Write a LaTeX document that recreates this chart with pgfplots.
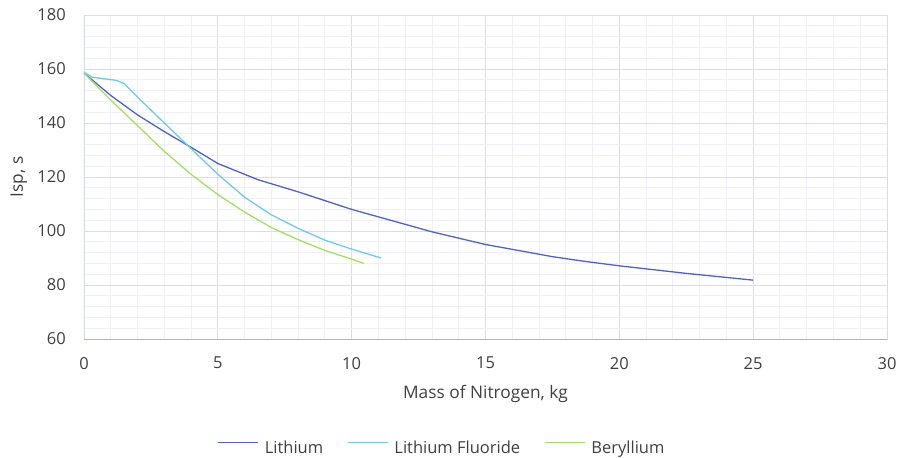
\documentclass[border=0pt]{standalone}
\usepackage{pgfplots}
\pgfplotsset{compat=1.18}
\usepackage{fontspec}
\setmainfont{Open Sans}
\definecolor{cLi}{RGB}{80,98,200}
\definecolor{cLiF}{RGB}{110,200,240}
\definecolor{cBe}{RGB}{165,222,100}
\definecolor{gmaj}{RGB}{217,220,240}
\definecolor{gmin}{RGB}{238,239,247}
\definecolor{axl}{RGB}{170,180,225}
\definecolor{txt}{RGB}{64,64,64}
\newcommand{\cf}{\fontsize{16.5bp}{20bp}\selectfont}
\newcommand{\lf}{\fontsize{17.3bp}{21bp}\selectfont}
\begin{document}
\begin{tikzpicture}
\begin{axis}[
  scale only axis, width=803bp, height=324bp,
  xmin=0, xmax=30, ymin=60, ymax=180,
  xtick={0,5,...,30}, ytick={60,80,...,180},
  minor x tick num=4, minor y tick num=4,
  grid=both,
  major grid style={gmaj, line width=0.9bp},
  minor grid style={gmin, line width=0.9bp},
  major tick length=0pt, minor tick length=0pt,
  axis line style={gmaj, line width=0.9bp},
  /pgf/number format/assume math mode=true,
  tick label style={font=\cf, text=txt, inner sep=0pt},
  xticklabel style={anchor=north, yshift=-18bp},
  yticklabel style={anchor=east, xshift=-18bp},
  xlabel={Mass of Nitrogen, kg},
  ylabel={Isp, s},
  label style={font=\lf, text=txt, inner sep=0pt},
  xlabel style={at={(axis description cs:0.5,-0.1821)}, anchor=base},
  ylabel style={at={(axis description cs:-0.0760,0.5)}, anchor=base, rotate=0},
  legend columns=3,
  legend style={at={(axis description cs:0.4446,-0.3355)}, anchor=center,
    draw=none, fill=none, inner sep=0pt, font=\cf, text=txt,
    nodes={inner sep=0pt},
    /tikz/every odd column/.append style={column sep=6bp},
    /tikz/every even column/.append style={column sep=24bp}},
  legend image code/.code={\draw[#1] (0bp,5.5bp)--(40bp,5.5bp);},
  every axis plot/.append style={line width=1.3bp, line join=round},
]
\addplot[cLi] coordinates {(0,158.5)(1,150.2)(2,143)(3,136.8)(4,131)(5,125)(6,121)(6.5,119)(8,114.5)(10,108)(13,99.7)(15,95)(17.5,90.5)(18.6,88.9)(20,87.1)(22.5,84.3)(25,81.8)};
\addlegendentry{Lithium}
\addplot[cLiF] coordinates {(0,158.8)(0.3,157)(1.2,155.8)(1.5,154.6)(2,149.6)(3,140)(4,130.5)(5,121)(6,112.5)(7,106)(8,101)(9,96.6)(10,93.3)(11.1,90)};
\addlegendentry{Lithium Fluoride}
\addplot[cBe] coordinates {(0,158.5)(1,148.5)(2,139)(3,129.5)(4,121)(5,113.5)(6,107)(7,101.3)(8,96.8)(9,92.8)(10,89.6)(10.45,88)};
\addlegendentry{Beryllium}
\draw[axl, line width=1bp] (rel axis cs:0,1) -- (rel axis cs:0,0) -- (rel axis cs:1,0);
\end{axis}
\pgfresetboundingbox
\path (-84bp,-119bp) rectangle (817bp,339bp);
\end{tikzpicture}
\end{document}
